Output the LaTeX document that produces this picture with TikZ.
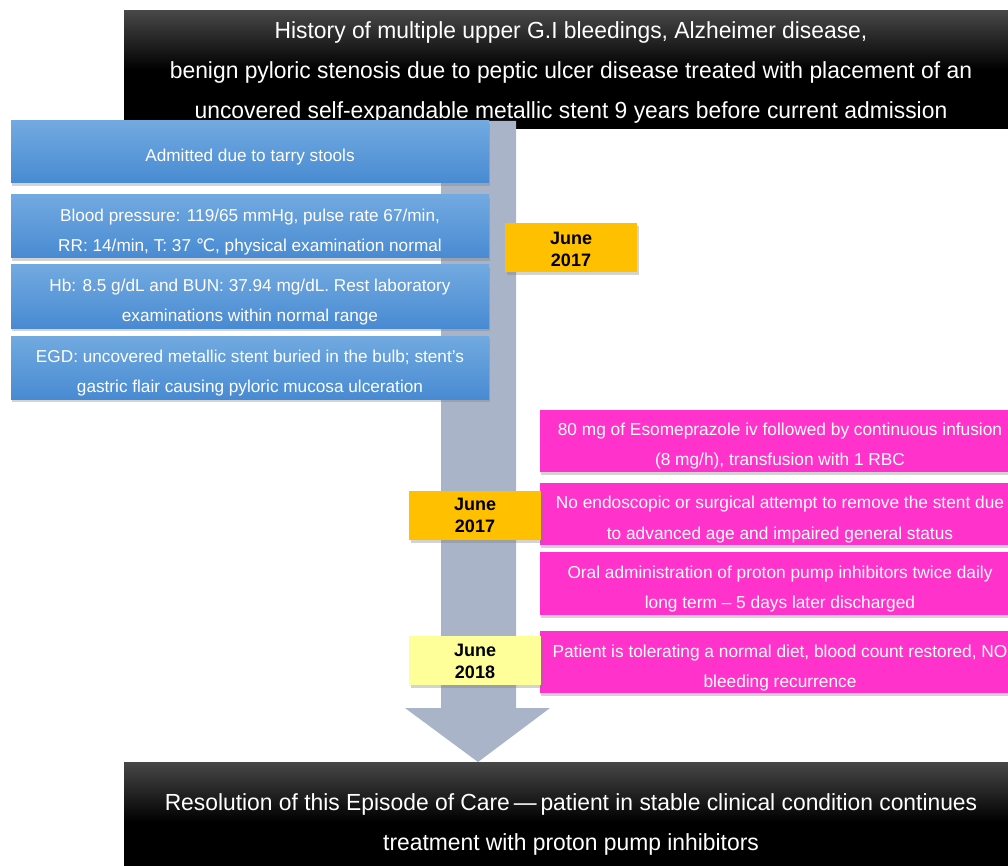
\documentclass[tikz,border=0pt]{standalone}
\usepackage{fontspec}
\setmainfont{Liberation Sans}
\newfontfamily\widefont[FakeStretch=0.98]{Liberation Sans}
\newfontfamily\symfont{DejaVu Sans}
\usetikzlibrary{shadows}
\definecolor{bluetop}{RGB}{114,170,224}
\definecolor{bluebot}{RGB}{72,138,210}
\definecolor{pinkbox}{RGB}{255,51,204}
\definecolor{orangebox}{RGB}{255,192,0}
\definecolor{yellowbox}{RGB}{255,255,153}
\definecolor{arrowgray}{RGB}{169,180,200}
\tikzset{
  darkbox/.style={inner sep=0pt, minimum width=894pt, top color=black!72, bottom color=black, middle color=black},
  darktext/.style={inner sep=0pt, text=white, align=center, font=\widefont\fontsize{23.3}{40}\selectfont},
  bluebox/.style={inner sep=0pt, minimum width=478pt, minimum height=63pt, top color=bluetop, bottom color=bluebot,
    drop shadow={shadow xshift=1pt, shadow yshift=-3pt, opacity=0.35}},
  bluetext/.style={inner sep=0pt, text=white, align=center, font=\fontsize{17.2}{30}\selectfont},
  pinkbox/.style={inner sep=0pt, minimum width=485pt, minimum height=62pt, fill=pinkbox,
    drop shadow={shadow xshift=1pt, shadow yshift=-3pt, opacity=0.35}},
  pinktext/.style={inner sep=0pt, text=white, align=center, font=\fontsize{17.3}{30.5}\selectfont},
  datebox/.style={inner sep=0pt, minimum width=132pt, minimum height=49pt,
    drop shadow={shadow xshift=2pt, shadow yshift=-3pt, opacity=0.35}},
  datetext/.style={inner sep=0pt, align=center, font=\bfseries\fontsize{18}{22}\selectfont}
}
\begin{document}
\begin{tikzpicture}[x=1pt,y=-1pt]
\useasboundingbox (0,0) rectangle (1008,866);
\clip (0,0) rectangle (1008,866);
% top dark box
\node[darkbox, minimum height=118pt] (top) at (571,70) {};
\node[darktext] (topt) at (571,72)
  {History of multiple upper G.I bleedings, Alzheimer disease,\\
   benign pyloric stenosis due to peptic ulcer disease treated with placement of an\\
   uncovered self-expandable metallic stent 9 years before current admission};
% bottom dark box
\node[darkbox, minimum height=120pt] (bottom) at (571,822) {};
\node[darktext] (bottomt) at (571,824)
  {Resolution of this Episode of Care\,—\,patient in stable clinical condition continues\\
   treatment with proton pump inhibitors};
% timeline arrow
\fill[arrowgray] (441,121) -- (516,121) -- (516,708) -- (550,708) -- (478,762)
  -- (405,708) -- (441,708) -- cycle;
% blue boxes
\node[bluebox, minimum height=62pt] (b1) at (250,152) {};
\node[bluetext] (b1t) at (250,157) {Admitted due to tarry stools};
\node[bluebox] (b2) at (250,226.5) {};
\node[bluetext] (b2t) at (250,232.5) {Blood pressure: 119/65 mmHg, pulse rate 67/min,\\
  RR: 14/min, T: 37 {\symfont ℃}, physical examination normal};
\node[bluebox] (b3) at (250,296.5) {};
\node[bluetext] (b3t) at (250,302.5) {Hb: 8.5 g/dL and BUN: 37.94 mg/dL. Rest laboratory\\
  examinations within normal range};
\node[bluebox] (b4) at (250,367.5) {};
\node[bluetext] (b4t) at (250,373) {EGD: uncovered metallic stent buried in the bulb; stent’s\\
  gastric flair causing pyloric mucosa ulceration};
% date box
\node[datebox, fill=orangebox] (d1) at (571,247.5) {};
\node[datetext] (d1t) at (571,249.5) {June\\2017};
% pink boxes
\node[pinkbox] (p1) at (782,441) {};
\node[pinktext] (p1t) at (780,446) {80 mg of Esomeprazole iv followed by continuous infusion\\
  (8 mg/h), transfusion with 1 RBC};
\node[pinkbox] (p2) at (782,514) {};
\node[pinktext] (p2t) at (780,519.5) {No endoscopic or surgical attempt to remove the stent due\\
  to advanced age and impaired general status};
\node[pinkbox, minimum height=63pt] (p3) at (782,583.5) {};
\node[pinktext] (p3t) at (780,589) {Oral administration of proton pump inhibitors twice daily\\
  long term – 5 days later discharged};
\node[pinkbox] (p4) at (782,662) {};
\node[pinktext] (p4t) at (780,668) {Patient is tolerating a normal diet, blood count restored, NO\\
  bleeding recurrence};
\node[datebox, fill=orangebox] (d2) at (475,515) {};
\node[datetext] (d2t) at (475,515.5) {June\\2017};
\node[datebox, fill=yellowbox] (d3) at (475,660.5) {};
\node[datetext] (d3t) at (475,661.5) {June\\2018};
\end{tikzpicture}
\end{document}
